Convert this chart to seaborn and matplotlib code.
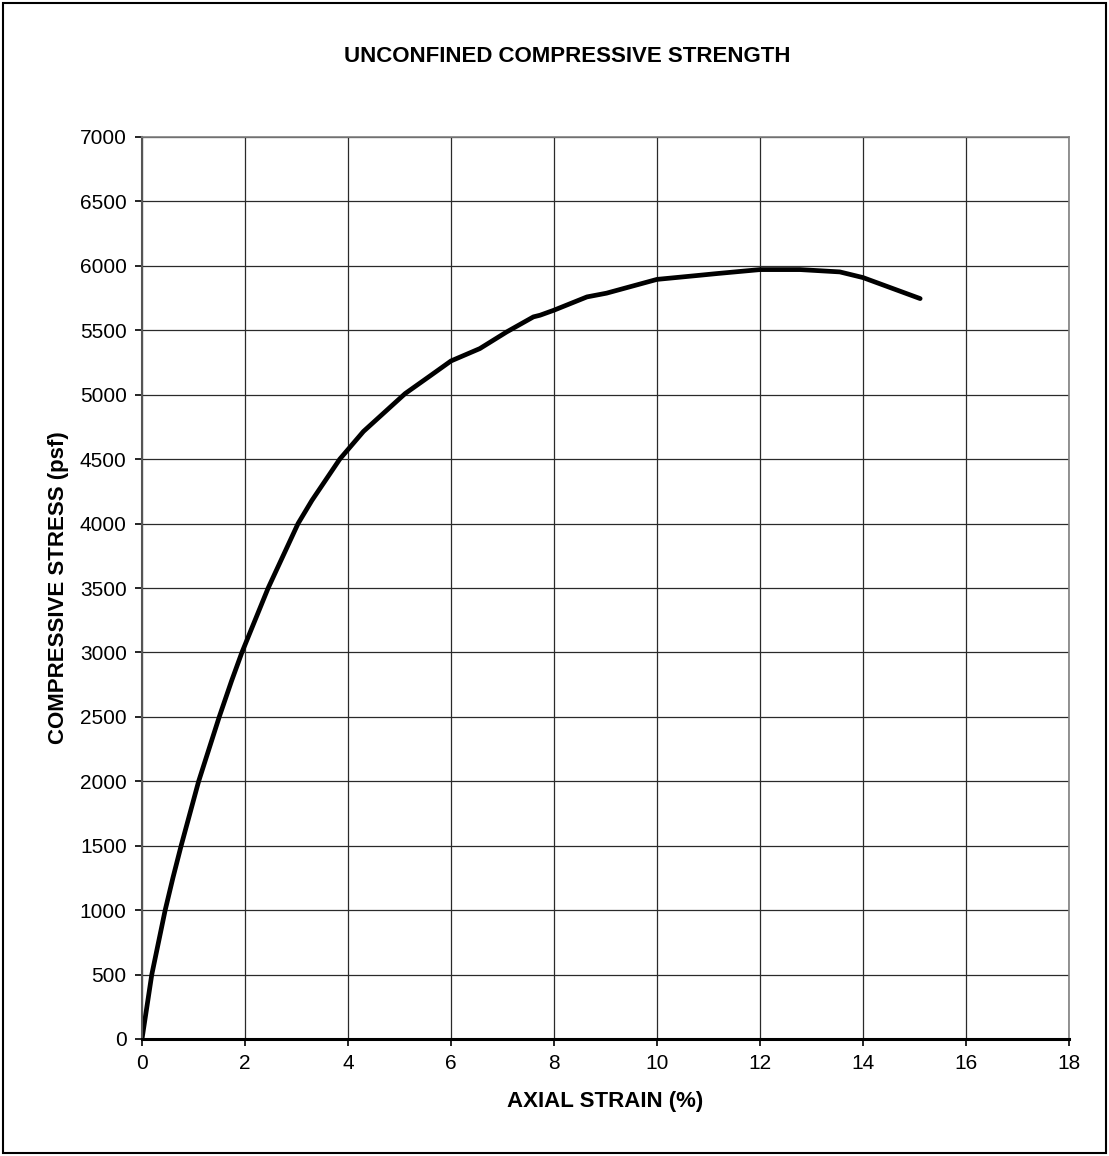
import matplotlib
matplotlib.use("Agg")
import matplotlib.pyplot as plt
from matplotlib.patches import Rectangle
import seaborn as sns
import pandas as pd

# Unconfined compression test: axial strain (%) vs compressive stress (psf)
strain = [0.0, 0.19, 0.45, 0.60, 0.76, 1.10, 1.50, 1.74, 1.94, 2.45, 3.03,
          3.30, 3.84, 4.30, 5.11, 5.59, 6.0, 6.56, 7.08, 7.6, 7.73, 8.0, 8.64,
          9.02, 10.0, 10.83, 11.16, 12.0, 12.78, 13.55, 14.0, 15.11]
stress = [0, 500, 1000, 1250, 1500, 2000, 2500, 2780, 3000, 3500, 4000,
          4180, 4500, 4715, 5009, 5145, 5262, 5358, 5487, 5604, 5617, 5656, 5759,
          5788, 5895, 5927, 5940, 5971, 5971, 5953, 5909, 5746]

x_ticks = list(range(0, 19, 2))
y_ticks = list(range(0, 7001, 500))

df = pd.DataFrame({"strain": strain, "stress": stress})

sns.set_theme(style="white")
plt.rcParams["font.family"] = ["Liberation Sans", "DejaVu Sans"]
plt.rcParams["text.color"] = "black"
plt.rcParams["axes.labelcolor"] = "black"
plt.rcParams["xtick.color"] = "black"
plt.rcParams["ytick.color"] = "black"

fig = plt.figure(figsize=(11.09, 11.56), dpi=100)
ax = fig.add_axes([142 / 1109, 1 - 1039 / 1156, (1069 - 142) / 1109, (1039 - 137) / 1156])

line_ax = sns.lineplot(data=df, x="strain", y="stress", ax=ax, color="black",
                       linewidth=3.4, sort=False, estimator=None)
for ln in line_ax.lines:
    ln.set_solid_joinstyle("round")
    ln.set_solid_capstyle("round")

ax.set_xlim(0, 18)
ax.set_ylim(0, 7000)
ax.set_xticks(x_ticks)
ax.set_yticks(y_ticks)
ax.set_xticklabels([str(v) for v in x_ticks], fontsize=15)
ax.set_yticklabels([str(v) for v in y_ticks], fontsize=15)
ax.grid(True, color="#2a2a2a", linewidth=0.9)
ax.set_axisbelow(True)

ax.tick_params(axis="both", which="major", direction="out", length=5,
               width=1.2, color="black", bottom=True, left=True, pad=6)

for side in ("top", "right"):
    ax.spines[side].set_color("#808080")
    ax.spines[side].set_linewidth(1.2)
ax.spines["left"].set_color("#555555")
ax.spines["left"].set_linewidth(1.5)
ax.spines["bottom"].set_color("black")
ax.spines["bottom"].set_linewidth(2.2)

ax.set_xlabel("AXIAL STRAIN (%)", fontsize=16, fontweight="bold", labelpad=13)
ax.set_ylabel("COMPRESSIVE STRESS (psf)", fontsize=16, fontweight="bold", labelpad=8)
fig.text(567 / 1109, 1 - 56 / 1156, "UNCONFINED COMPRESSIVE STRENGTH",
         ha="center", va="center", fontsize=16, fontweight="bold")

# outer chart frame
fig.patches.append(Rectangle((3 / 1109, 3 / 1156), 1103 / 1109, 1150 / 1156,
                             transform=fig.transFigure, fill=False,
                             edgecolor="black", linewidth=1.5))

fig.savefig("out.png", dpi=100, facecolor="white")
